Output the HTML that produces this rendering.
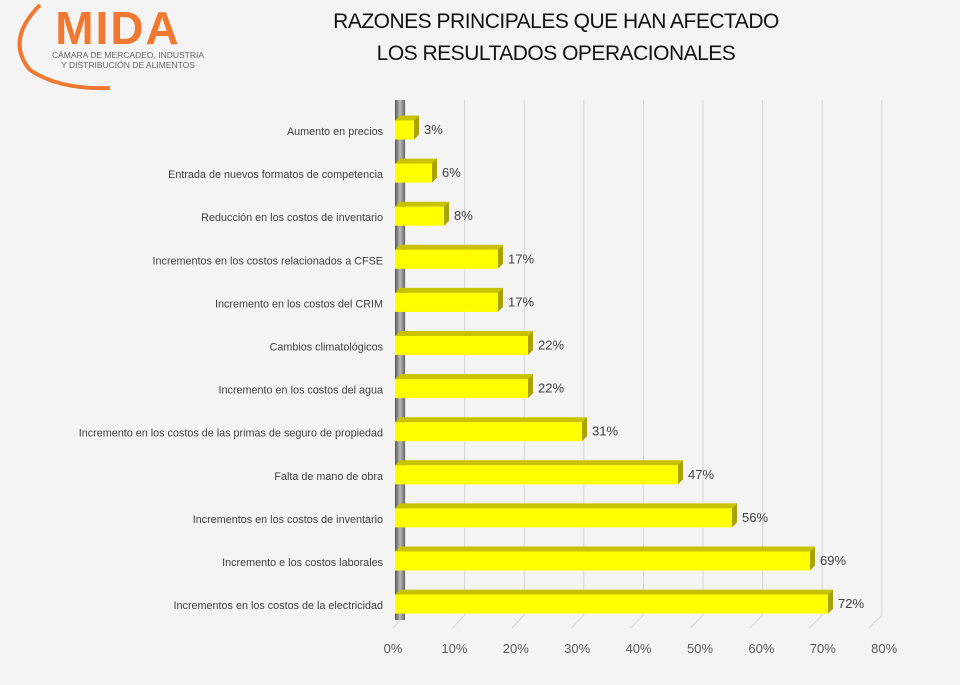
<!DOCTYPE html>
<html><head><meta charset="utf-8"><style>
body{margin:0;width:960px;height:680px;background:#f5f4f4;overflow:hidden;font-family:"Liberation Sans",sans-serif}
</style></head><body>
<svg width="960" height="680" xmlns="http://www.w3.org/2000/svg">
<defs>
<linearGradient id="wall" x1="0" y1="0" x2="1" y2="0">
<stop offset="0" stop-color="#555"/><stop offset="0.5" stop-color="#bbb"/><stop offset="1" stop-color="#666"/>
</linearGradient>
</defs>
<g>
<path d="M40,5 Q5,40 30,70 Q60,90 110,88" fill="none" stroke="#f07830" stroke-width="4"/>
<text x="118" y="44" font-size="46" font-weight="bold" fill="#f07830" text-anchor="middle" font-family="Liberation Sans,sans-serif" letter-spacing="2">MIDA</text>
<text x="128" y="58" font-size="8.5" fill="#666" text-anchor="middle">CÁMARA DE MERCADEO, INDUSTRIA</text>
<text x="128" y="68" font-size="8.5" fill="#666" text-anchor="middle">Y DISTRIBUCIÓN DE ALIMENTOS</text>
</g>
<g font-size="21" fill="#111" text-anchor="middle" letter-spacing="-0.5">
<text x="556" y="28">RAZONES PRINCIPALES QUE HAN AFECTADO</text>
<text x="556" y="60">LOS RESULTADOS OPERACIONALES</text>
</g>
<g id="grid"></g>
<rect x="395" y="100" width="10" height="520" fill="url(#wall)"/>
<g id="bars"></g>
<g id="labels"></g>
</svg>
<script>
const categories=["Aumento en precios","Entrada de nuevos formatos de competencia","Reducción en los costos de inventario","Incrementos en los costos relacionados a CFSE","Incremento en los costos del CRIM","Cambios climatológicos","Incremento en los costos del agua","Incremento en los costos de las primas de seguro de propiedad","Falta de mano de obra","Incrementos en los costos de inventario","Incremento e los costos laborales","Incrementos en los costos de la electricidad"];
const values=[3,6,8,17,17,22,22,31,47,56,69,72];
const tickLabels=["0%","10%","20%","30%","40%","50%","60%","70%","80%"];
const ticks=[0,10,20,30,40,50,60,70,80];
const NS="http://www.w3.org/2000/svg";
const xF=v=>396+v*6.0, xB=v=>405+v*5.96, xL=v=>393+v*6.14, xG=v=>393+v*5.95;
const yC=i=>128+i*43.1;
function mk(t,a,p){const e=document.createElementNS(NS,t);for(const k in a)e.setAttribute(k,a[k]);p.appendChild(e);return e;}
const grid=document.getElementById('grid'),bars=document.getElementById('bars'),labels=document.getElementById('labels');
ticks.forEach((t,i)=>{
 const l=mk('path',{d:`M${xG(t)},628 L${xB(t)},615 L${xB(t)},100`,stroke:'#d6d6d6','stroke-width':1,fill:'none'},grid);
 
 
 const tx=mk('text',{x:xL(t),y:653,'font-size':13,fill:'#595959','text-anchor':'middle'},labels);
 tx.textContent=tickLabels[i];
 
 
});
values.forEach((v,i)=>{
 const y=yC(i),h=19,top=y-h/2+2,x0=395,x1=xF(v),d=5;
 const g=mk('g',{},bars);
 
 
 mk('path',{d:`M${x0},${top} L${x0+d},${top-d} L${x1+d},${top-d} L${x1},${top} Z`,fill:'#c8c200'},g);
 mk('path',{d:`M${x1},${top} L${x1+d},${top-d} L${x1+d},${top+h-d} L${x1},${top+h} Z`,fill:'#a8a300'},g);
 mk('rect',{x:x0,y:top,width:x1-x0,height:h,fill:'#ffff00'},g);
 const vt=mk('text',{x:x1+10,y:y+6,'font-size':13,fill:'#404040'},labels);
 vt.textContent=v+'%';
 
 
 const ct=mk('text',{x:383,y:y+7,'font-size':10.8,fill:'#404040','text-anchor':'end'},labels);
 ct.textContent=categories[i];
 
 
});
</script>
</body></html>
